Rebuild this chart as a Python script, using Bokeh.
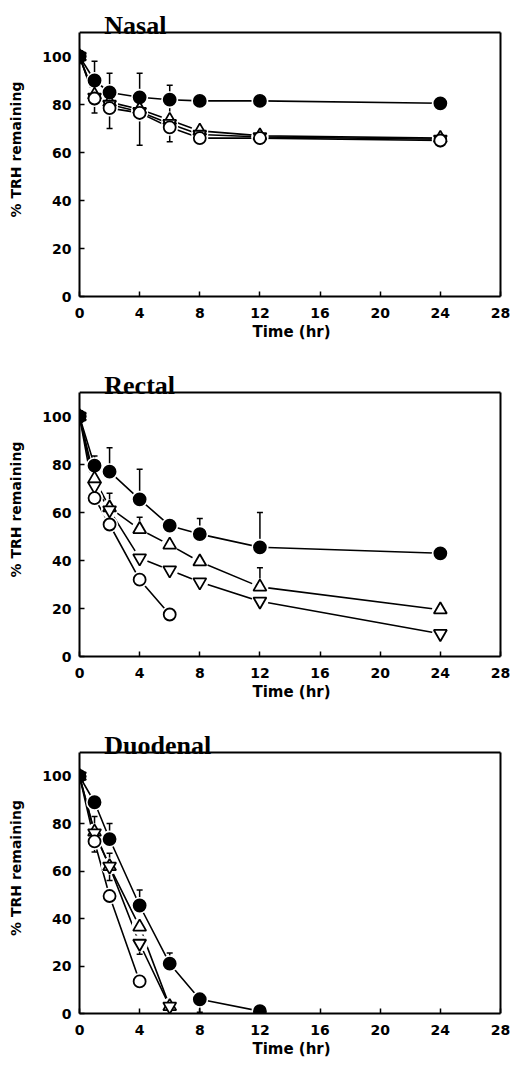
from bokeh.plotting import figure
from bokeh.layouts import column
from bokeh.models import Range1d, FixedTicker, Label, Whisker, TeeHead, ColumnDataSource
from bokeh.embed import file_html
from bokeh.resources import INLINE

# ---------------- data ----------------
time_pts = [0, 1, 2, 4, 6, 8, 12, 24]
x_ticks = [0, 4, 8, 12, 16, 20, 24, 28]
y_ticks = [0, 20, 40, 60, 80, 100]

# Nasal
nasal_filled = [100, 90, 85, 83, 82, 81.5, 81.5, 80.5]
nasal_tri_up = [100, 84, 81, 78, 73.5, 69, 67, 66]
nasal_tri_dn = [100, 83, 80, 77, 72, 67.5, 66.5, 65.5]
nasal_open = [100, 82.5, 78.5, 76.5, 70.5, 66, 66, 65]
nasal_err_t = [1, 2, 4, 6]
nasal_err_lo = [76.5, 70, 63, 64.5]
nasal_err_hi = [98, 93, 93, 88]

# Rectal
rectal_t_open = [0, 1, 2, 4, 6]
rectal_filled = [100, 79.5, 77, 65.5, 54.5, 51, 45.5, 43]
rectal_tri_up = [100, 74, 62, 53, 46.5, 39.5, 29, 19.5]
rectal_tri_dn = [100, 71, 61, 41, 36, 31, 23, 9.5]
rectal_open = [100, 66, 55, 32, 17.5]
rectal_err_t = [1, 2, 4, 8, 12, 2, 4, 12]
rectal_err_lo = [79.5, 77, 65.5, 51, 45.5, 62, 53, 29]
rectal_err_hi = [83.5, 87, 78, 57.5, 60, 68, 58, 37]

# Duodenal
duo_t_filled = [0, 1, 2, 4, 6, 8, 12]
duo_t_tri = [0, 1, 2, 4, 6]
duo_t_open = [0, 1, 2, 4]
duo_filled = [100, 89, 73.5, 45.5, 21, 6, 1]
duo_tri_up = [100, 76.5, 62, 36.5, 3]
duo_tri_dn = [100, 76, 62, 29.5, 3]
duo_open = [100, 72.5, 49.5, 13.5]
duo_err_t = [2, 4, 6, 8, 1, 2, 1, 4]
duo_err_lo = [73.5, 45.5, 21, 0.5, 76.5, 56, 68, 25]
duo_err_hi = [80, 52, 25.5, 6, 83, 67.5, 72.5, 29.5]

X_MAX, Y_MAX = 28, 110

panels = [
    dict(title="Nasal", height=360, bottom=64, ytop=122.5,
         series=[(time_pts, nasal_tri_up, "triangle", False),
                 (time_pts, nasal_tri_dn, "inverted_triangle", False),
                 (time_pts, nasal_open, "circle", False),
                 (time_pts, nasal_filled, "circle", True)],
         err=(nasal_err_t, nasal_err_lo, nasal_err_hi)),
    dict(title="Rectal", height=360, bottom=64, ytop=122.5,
         series=[(time_pts, rectal_tri_up, "triangle", False),
                 (time_pts, rectal_tri_dn, "inverted_triangle", False),
                 (rectal_t_open, rectal_open, "circle", False),
                 (time_pts, rectal_filled, "circle", True)],
         err=(rectal_err_t, rectal_err_lo, rectal_err_hi)),
    dict(title="Duodenal", height=348, bottom=55, ytop=122.6,
         series=[(duo_t_tri, duo_tri_up, "triangle", False),
                 (duo_t_tri, duo_tri_dn, "inverted_triangle", False),
                 (duo_t_open, duo_open, "circle", False),
                 (duo_t_filled, duo_filled, "circle", True)],
         err=(duo_err_t, duo_err_lo, duo_err_hi)),
]

figs = []
for pn in panels:
    p = figure(width=513, height=pn["height"], output_backend="svg",
               toolbar_location=None, x_range=Range1d(0, 28.2), y_range=Range1d(0, pn["ytop"]),
               min_border_left=79, min_border_right=10,
               min_border_top=2, min_border_bottom=pn["bottom"])
    p.grid.visible = False
    p.outline_line_color = None
    p.background_fill_color = "white"
    p.border_fill_color = "white"

    for ax in (p.xaxis[0], p.yaxis[0]):
        ax.axis_line_width = 2
        ax.axis_line_color = "black"
        ax.major_tick_in = 5
        ax.major_tick_out = 0
        ax.major_tick_line_width = 1.5
        ax.minor_tick_line_color = None
        ax.major_label_text_font = "DejaVu Sans"
        ax.major_label_text_font_style = "bold"
        ax.major_label_text_font_size = "14px"
        ax.major_label_text_color = "black"
        ax.axis_label_text_font = "DejaVu Sans"
        ax.axis_label_text_font_style = "bold"
        ax.axis_label_text_color = "black"
    p.xaxis.bounds = (0, X_MAX)
    p.yaxis.bounds = (0, Y_MAX)
    p.xaxis.ticker = FixedTicker(ticks=x_ticks)
    p.yaxis.ticker = FixedTicker(ticks=y_ticks)
    p.xaxis.major_label_standoff = 11
    p.yaxis.major_label_standoff = 8
    p.xaxis.axis_label = "Time (hr)"
    p.xaxis.axis_label_text_font_size = "15px"
    p.xaxis.axis_label_standoff = 2
    p.yaxis.axis_label = "% TRH remaining"
    p.yaxis.axis_label_text_font_size = "14px"
    p.yaxis.axis_label_standoff = 15

    # top and right sides of the box
    p.segment(x0=[0, X_MAX], y0=[Y_MAX, 0], x1=[X_MAX, X_MAX], y1=[Y_MAX, Y_MAX],
              line_color="black", line_width=2)

    for xs, ys, mk, filled in pn["series"]:
        p.line(xs, ys, line_color="black", line_width=1.6)

    # white halos so the connecting lines stop short of the symbols
    for xs, ys, mk, filled in pn["series"]:
        p.scatter(xs[1:], ys[1:], marker="circle", size=17, line_color=None, fill_color="white")

    et, elo, ehi = pn["err"]
    src = ColumnDataSource(dict(base=et, lower=elo, upper=ehi))
    w = Whisker(source=src, base="base", lower="lower", upper="upper",
                dimension="height", line_color="black", line_width=1.5,
                upper_head=TeeHead(size=6, line_width=1.5, line_color="black"),
                lower_head=TeeHead(size=6, line_width=1.5, line_color="black"))
    p.add_layout(w)

    for xs, ys, mk, filled in pn["series"]:
        sz = 12 if mk == "circle" else 13
        p.scatter(xs, ys, marker=mk, size=sz, line_color="black", line_width=1.8,
                  fill_color="black" if filled else "white")

    p.add_layout(Label(x=1.65, y=112.9, text=pn["title"], text_font="Liberation Serif",
                       text_font_style="bold", text_font_size="26px",
                       text_color="black", text_baseline="alphabetic"))
    figs.append(p)

layout = column(*figs, spacing=0)
open("out.html", "w").write(file_html(layout, INLINE))
